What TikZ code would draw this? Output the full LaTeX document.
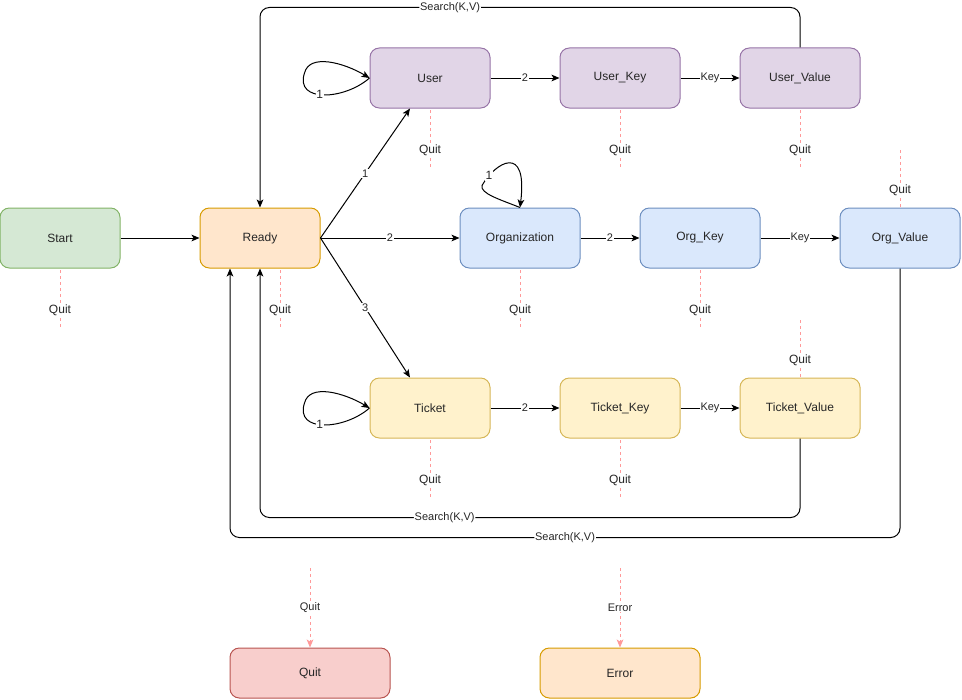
\documentclass[tikz,border=0pt]{standalone}
\usepackage{fontspec}
\setmainfont{Liberation Sans}
\usetikzlibrary{arrows.meta,calc}
\definecolor{greenF}{HTML}{D5E8D4}\definecolor{greenD}{HTML}{82B366}
\definecolor{orangeF}{HTML}{FFE6CC}\definecolor{orangeD}{HTML}{D79B00}
\definecolor{purpleF}{HTML}{E1D5E7}\definecolor{purpleD}{HTML}{9673A6}
\definecolor{blueF}{HTML}{DAE8FC}\definecolor{blueD}{HTML}{6C8EBF}
\definecolor{yellowF}{HTML}{FFF2CC}\definecolor{yellowD}{HTML}{D6B656}
\definecolor{redF}{HTML}{F8CECC}\definecolor{redD}{HTML}{B85450}
\definecolor{qred}{HTML}{FF9999}
\begin{document}
\begin{tikzpicture}[x=0.75pt,y=-0.75pt,
  box/.style={draw, rounded corners=7pt, minimum width=90pt, minimum height=45pt,
    line width=0.75pt, inner sep=0pt, font=\fontsize{9}{11}\selectfont, text=black!85},
  bigbox/.style={box, minimum width=120pt, minimum height=37.5pt},
  conn/.style={draw=black, line width=0.75pt, -{Stealth[length=6pt,width=5pt,inset=1.5pt]}},
  lbl/.style={fill=white, inner sep=0.6pt, font=\fontsize{8.25}{9}\selectfont, text=black!85},
  looplbl/.style={fill=white, inner sep=0.6pt, font=\fontsize{9}{11}\selectfont, text=black!85},
  qlbl/.style={fill=white, inner sep=1pt, font=\fontsize{9}{11}\selectfont, text=black!85},
  quitline/.style={draw=qred, line width=0.75pt, dash pattern=on 2.25pt off 2.25pt},
  quitarrow/.style={quitline, -{Stealth[length=6pt,width=5pt,inset=1.5pt]}}
]
\useasboundingbox (0,0) rectangle (962,699);

% nodes
\node[box, fill=greenF, draw=greenD] (start) at (60,238) {Start};
\node[box, fill=orangeF, draw=orangeD] (ready) at (260,238) {Ready};
\node[box, fill=purpleF, draw=purpleD] (user) at (430,78) {User};
\node[box, fill=purpleF, draw=purpleD] (userkey) at (620,78) {User\_Key};
\node[box, fill=purpleF, draw=purpleD] (uservalue) at (800,78) {User\_Value};
\node[box, fill=blueF, draw=blueD] (org) at (520,238) {Organization};
\node[box, fill=blueF, draw=blueD] (orgkey) at (700,238) {Org\_Key};
\node[box, fill=blueF, draw=blueD] (orgvalue) at (900,238) {Org\_Value};
\node[box, fill=yellowF, draw=yellowD] (ticket) at (430,408) {Ticket};
\node[box, fill=yellowF, draw=yellowD] (ticketkey) at (620,408) {Ticket\_Key};
\node[box, fill=yellowF, draw=yellowD] (ticketvalue) at (800,408) {Ticket\_Value};
\node[bigbox, fill=redF, draw=redD] (quit) at (310,673) {Quit};
\node[bigbox, fill=orangeF, draw=orangeD] (error) at (620,673) {Error};

% main connectors
\draw[conn] (start) -- (ready);
\draw[conn] (ready.east) -- node[lbl]{1} ([xshift=-15pt]user.south);
\draw[conn] (ready.east) -- node[lbl]{2} (org.west);
\draw[conn] (ready.east) -- node[lbl]{3} ([xshift=-15pt]ticket.north);
\draw[conn] (user) -- node[lbl]{2} (userkey);
\draw[conn] (userkey) -- node[lbl]{Key} (uservalue);
\draw[conn] (org) -- node[lbl]{2} (orgkey);
\draw[conn] (orgkey) -- node[lbl]{Key} (orgvalue);
\draw[conn] (ticket) -- node[lbl]{2} (ticketkey);
\draw[conn] (ticketkey) -- node[lbl]{Key} (ticketvalue);

% self loops
\draw[conn] (user.west) .. controls ($(user.west)+(-25,22)$) and ($(user.west)+(-75,25)$) .. node[looplbl,pos=0.55]{1} ($(user.west)+(-65,-5)$)
  .. controls ($(user.west)+(-60,-25)$) and ($(user.west)+(-25,-15)$) .. (user.west);
\draw[conn] (ticket.west) .. controls ($(ticket.west)+(-25,22)$) and ($(ticket.west)+(-75,25)$) .. node[looplbl,pos=0.55]{1} ($(ticket.west)+(-65,-5)$)
  .. controls ($(ticket.west)+(-60,-25)$) and ($(ticket.west)+(-25,-15)$) .. (ticket.west);
\draw[conn] (org.north) .. controls ($(org.north)+(-20,-8)$) and ($(org.north)+(-40,-14)$) .. ($(org.north)+(-38,-22)$)
  .. controls ($(org.north)+(-25,-45)$) and ($(org.north)+(8,-65)$) .. node[looplbl,pos=0.15]{1} (org.north);

% search paths back to Ready
\draw[conn, rounded corners=7pt] (uservalue.north) -- ++(0,-40) -| node[lbl,pos=0.324]{Search(K,V)} (ready.north);
\draw[conn, rounded corners=7pt] (ticketvalue.south) -- ++(0,79) -| node[lbl,pos=0.329]{Search(K,V)} (ready.south);
\draw[conn, rounded corners=7pt] (orgvalue.south) -- ++(0,269) -| node[lbl,pos=0.25]{Search(K,V)} ([xshift=-22.5pt]ready.south);

% dashed quit markers
\coordinate (q1a) at (60,270);  \coordinate (q1b) at (60,328);
\coordinate (q2a) at (280,270); \coordinate (q2b) at (280,328);
\coordinate (q3a) at (430,110); \coordinate (q3b) at (430,168);
\coordinate (q4a) at (620,110); \coordinate (q4b) at (620,168);
\coordinate (q5a) at (800,110); \coordinate (q5b) at (800,168);
\coordinate (q6a) at (520,270); \coordinate (q6b) at (520,328);
\coordinate (q7a) at (700,270); \coordinate (q7b) at (700,328);
\coordinate (q8a) at (900,150); \coordinate (q8b) at (900,208);
\coordinate (q9a) at (800,320); \coordinate (q9b) at (800,378);
\coordinate (q10a) at (430,440); \coordinate (q10b) at (430,498);
\coordinate (q11a) at (620,440); \coordinate (q11b) at (620,498);
\foreach \i in {1,...,11}{
  \draw[quitline] (q\i a) -- node[qlbl,pos=0.69]{Quit} (q\i b);
}
\coordinate (qtop) at (310,568);
\coordinate (etop) at (620,568);
\draw[quitarrow] (qtop) -- node[lbl]{Quit} (quit.north);
\draw[quitarrow] (etop) -- node[lbl]{Error} (error.north);
\end{tikzpicture}
\end{document}
